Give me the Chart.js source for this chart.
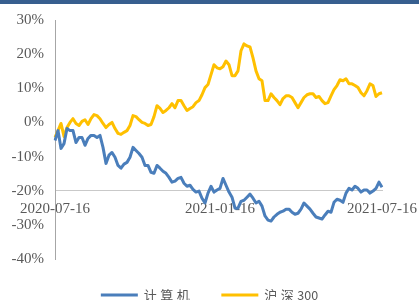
<!DOCTYPE html>
<html>
<head>
<meta charset="utf-8">
<script src="https://cdn.jsdelivr.net/npm/chart.js@4.4.1/dist/chart.umd.min.js"></script>
<style>
  html, body { margin: 0; padding: 0; background: #fff; }
  #wrap { position: relative; width: 419px; height: 300px; }
  #bar { position: absolute; left: 0; top: 0; width: 419px; height: 4px; background: #375f8f; }
</style>
</head>
<body>
<div id="wrap">
  <canvas id="myChart" width="419" height="300"></canvas>
  <div id="bar"></div>
</div>
<script>
// 计算机 vs 沪深300, cumulative return (%), 2020-07-16 .. 2021-07-16
const seriesNames = ['计算机', '沪深300'];
const tickLabels = ['2020-07-16', '2021-01-16', '2021-07-16'];
const tickIndex = [0, 55, 109];

const computer = [
  -5.3, -2.4, -7.6, -6.2, -1.8, -2.4, -2.4, -5.9, -4.4, -4.4,
  -6.7, -4.7, -3.8, -3.8, -4.4, -3.8, -7.3, -12.0, -9.6, -8.8,
  -10.2, -12.6, -13.4, -12.2, -11.7, -10.2, -7.3, -8.2, -9.1, -10.2,
  -12.6, -12.6, -14.6, -14.9, -12.6, -13.4, -14.3, -14.9, -16.1, -17.5,
  -17.2, -16.4, -16.1, -17.8, -18.7, -18.4, -19.6, -20.4, -20.1, -22.2,
  -23.6, -20.7, -18.7, -20.4, -19.8, -19.3, -16.4, -18.4, -20.4, -21.9,
  -25.1, -25.1, -23.1, -22.8, -21.9, -21.0, -22.2, -23.6, -23.1, -24.5,
  -27.4, -28.6, -28.9, -27.7, -26.9, -26.3, -26.0, -25.4, -25.4, -26.3,
  -26.9, -26.6, -25.4, -23.6, -24.5, -25.4, -26.6, -27.7, -28.0, -28.3,
  -27.1, -26.0, -26.3, -23.4, -22.5, -22.8, -23.4, -20.7, -19.3, -19.8,
  -18.7, -19.3, -20.4, -19.8, -19.8, -20.7, -20.1, -19.3, -17.5, -19.0
];

const hs300 = [
  -4.4, -2.4, -0.3, -4.1, -1.5, 0.0, 1.1, -0.3, -0.9, 0.3,
  0.8, -0.6, 1.1, 2.3, 2.0, 1.1, -0.3, -1.5, -0.6, 0.0,
  -1.8, -3.2, -3.5, -2.9, -2.4, -0.9, 2.0, 1.7, 0.8, 0.0,
  -0.3, -0.9, -0.6, 1.7, 4.9, 4.1, 2.9, 3.5, 4.3, 5.5,
  4.3, 6.4, 6.4, 4.9, 3.5, 4.1, 4.6, 5.8, 6.4, 8.1,
  10.2, 11.1, 14.0, 16.9, 16.0, 15.7, 16.3, 18.0, 16.9, 13.7,
  13.7, 15.1, 21.0, 23.0, 22.4, 22.1, 18.9, 15.1, 12.8, 12.2,
  6.4, 6.4, 8.4, 7.3, 6.4, 5.2, 7.0, 7.8, 7.8, 7.3,
  5.8, 4.3, 5.8, 7.3, 8.1, 8.4, 8.4, 7.3, 7.6, 6.4,
  5.5, 5.8, 7.8, 9.6, 10.8, 12.5, 12.2, 12.8, 11.3, 11.3,
  10.8, 10.2, 8.7, 7.8, 9.3, 11.3, 10.8, 7.6, 8.4, 8.7
];

const colors = ['#4a7ebb', '#ffc000'];
const categories = computer.map((v, i) => i);

// legend drawn under the plot, CJK glyphs spaced out like the original
const isCJK = ch => /[\u4e00-\u9fff]/.test(ch);
const bottomLegend = {
  id: 'bottomLegend',
  afterDraw(chart) {
    const ctx = chart.ctx;
    const lineLen = 37, gap = 6, itemGap = 28, y = 295;
    ctx.save();
    ctx.textBaseline = 'alphabetic';
    const fontFor = ch => (isCJK(ch) ? '13px' : '12.5px') + ' "Noto Sans CJK SC", "Noto Sans", sans-serif';
    const adv = ch => { ctx.font = fontFor(ch); return ctx.measureText(ch).width + (isCJK(ch) ? 3.5 : 0); };
    const widthOf = s => [...s].reduce((w, ch) => w + adv(ch), 0);
    const widths = seriesNames.map(n => lineLen + gap + widthOf(n));
    let x = (chart.width - (widths[0] + widths[1] + itemGap)) / 2;
    seriesNames.forEach((name, k) => {
      ctx.strokeStyle = colors[k];
      ctx.lineWidth = 3;
      ctx.beginPath();
      ctx.moveTo(x, y);
      ctx.lineTo(x + lineLen, y);
      ctx.stroke();
      let tx = x + lineLen + gap;
      ctx.fillStyle = '#595959';
      for (const ch of name) {
        const a = adv(ch);
        ctx.fillText(ch, tx, y + 4.5);
        tx += a;
      }
      x += widths[k] + itemGap;
    });
    ctx.restore();
  }
};

const serif = { family: '"Liberation Serif", "Times New Roman", serif', size: 15 };

new Chart(document.getElementById('myChart'), {
  type: 'line',
  data: {
    labels: categories,
    datasets: [
      { label: seriesNames[0], data: computer, borderColor: colors[0], backgroundColor: colors[0] },
      { label: seriesNames[1], data: hs300, borderColor: colors[1], backgroundColor: colors[1] }
    ]
  },
  options: {
    responsive: false,
    animation: false,
    events: [],
    layout: { padding: { left: 10, right: 37, top: 19, bottom: 41 } },
    elements: {
      line: { borderWidth: 3, tension: 0, borderJoinStyle: 'round' },
      point: { radius: 0 }
    },
    plugins: { legend: { display: false }, tooltip: { enabled: false } },
    scales: {
      x: {
        type: 'category',
        position: { y: -20 },
        offset: false,
        grid: { display: false, drawTicks: false },
        border: { color: '#c9c9c9', width: 1 },
        afterFit: s => { s.paddingLeft = 0; s.paddingRight = 0; },
        ticks: {
          autoSkip: false,
          maxRotation: 0,
          padding: 9,
          color: '#595959',
          font: serif,
          callback: (v, i) => {
            const k = tickIndex.indexOf(i);
            return k >= 0 ? tickLabels[k] : null;
          }
        }
      },
      y: {
        min: -40,
        max: 30,
        grid: { display: false, drawTicks: false },
        border: { color: '#a6a6a6', width: 1 },
        afterFit: s => { s.width = 45; },
        ticks: {
          stepSize: 10,
          padding: 11,
          color: '#595959',
          font: serif,
          callback: v => v + '%'
        }
      }
    }
  },
  plugins: [bottomLegend]
});
</script>
</body>
</html>
